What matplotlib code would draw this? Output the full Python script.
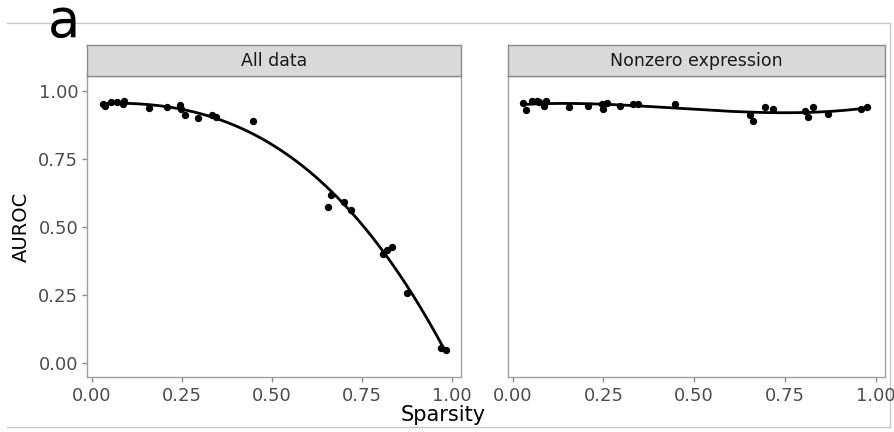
import numpy as np
import matplotlib.pyplot as plt
from matplotlib.lines import Line2D

plt.rcParams['font.family'] = ['DejaVu Sans']

# panel titles
panels = ["All data", "Nonzero expression"]

# All data
sparsity_all = [0.031, 0.036, 0.053, 0.070, 0.086, 0.089, 0.159, 0.209, 0.245, 0.248,
                0.259, 0.295, 0.334, 0.345, 0.448, 0.657, 0.666, 0.700, 0.720, 0.810,
                0.820, 0.835, 0.875, 0.970, 0.983]
auroc_all = [0.953, 0.945, 0.960, 0.960, 0.950, 0.963, 0.938, 0.942, 0.949, 0.934,
             0.909, 0.898, 0.909, 0.905, 0.887, 0.573, 0.617, 0.590, 0.562, 0.400,
             0.416, 0.427, 0.259, 0.055, 0.047]

# Nonzero expression
sparsity_nz = [0.027, 0.036, 0.052, 0.066, 0.072, 0.086, 0.093, 0.155, 0.208, 0.246,
               0.249, 0.260, 0.296, 0.332, 0.346, 0.446, 0.654, 0.662, 0.695, 0.717,
               0.806, 0.814, 0.828, 0.870, 0.961, 0.977]
auroc_nz = [0.954, 0.931, 0.964, 0.961, 0.957, 0.945, 0.961, 0.939, 0.945, 0.953,
            0.934, 0.954, 0.945, 0.953, 0.953, 0.953, 0.909, 0.888, 0.939, 0.934,
            0.924, 0.903, 0.939, 0.916, 0.934, 0.939]

xticks = [0.0, 0.25, 0.5, 0.75, 1.0]
yticks = [0.0, 0.25, 0.5, 0.75, 1.0]

W, H = 894, 432
fig = plt.figure(figsize=(W / 100, H / 100), dpi=100)

# panel boxes in pixels: (left, right)
boxes = [(87, 461), (508, 885)]
top_px, bot_px, strip_top = 76, 377, 45
series = [(sparsity_all, auroc_all), (sparsity_nz, auroc_nz)]

grey = '#4D4D4D'
tickc = '#8c8c8c'
for i, ((l, r), (xs, ys), title) in enumerate(zip(boxes, series, panels)):
    ax = fig.add_axes([l / W, (H - bot_px) / H, (r - l) / W, (bot_px - top_px) / H])
    ax.scatter(xs, ys, s=28, color='black', zorder=3, linewidths=0)
    coef = np.polyfit(xs, ys, 3)
    xx = np.linspace(min(xs), max(xs), 200)
    ax.plot(xx, np.polyval(coef, xx), color='black', lw=2.0, zorder=2)
    ax.set_xlim(-0.013, 1.026)
    ax.set_ylim(-0.051, 1.054)
    ax.set_xticks(xticks)
    ax.set_xticklabels(['%.2f' % t for t in xticks])
    ax.set_yticks(yticks)
    ax.tick_params(axis='x', labelsize=13, colors=tickc, labelcolor=grey,
                   length=3.3, width=1, pad=4)
    if i == 0:
        ax.set_yticklabels(['%.2f' % t for t in yticks])
        ax.set_ylabel('AUROC', fontsize=14, color='black', labelpad=5)
        ax.tick_params(axis='y', labelsize=13, colors=tickc, labelcolor=grey,
                       length=3.3, width=1, pad=3)
    else:
        ax.set_yticklabels([])
        ax.tick_params(axis='y', length=0)
    for s in ax.spines.values():
        s.set_color('#a0a0a0')
        s.set_linewidth(1.0)

    sax = fig.add_axes([l / W, (H - top_px) / H, (r - l) / W, (top_px - strip_top) / H])
    sax.set_facecolor('#D9D9D9')
    sax.set_xticks([])
    sax.set_yticks([])
    for s in sax.spines.values():
        s.set_color('#8c8c8c')
        s.set_linewidth(1.0)
    sax.text(0.5, 0.48, title, ha='center', va='center', fontsize=12.5, color='#1A1A1A',
             transform=sax.transAxes)

fig.text(443 / W, 1 - 415 / H, 'Sparsity', ha='center', va='center', fontsize=15)
fig.text(64 / W, 1 - 37 / H, 'a', ha='center', va='baseline', fontsize=38)

# light frame lines around the figure
frame = dict(color='#c8c8c8', lw=1, transform=fig.transFigure, zorder=0)
fig.add_artist(Line2D([7 / W, 890 / W], [1 - 22.5 / H, 1 - 22.5 / H], **frame))
fig.add_artist(Line2D([890 / W, 890 / W], [1 - 22.5 / H, 1 - 427 / H], **frame))
fig.add_artist(Line2D([7 / W, 890 / W], [1 - 427 / H, 1 - 427 / H], **frame))

fig.savefig('out.png', dpi=100)
